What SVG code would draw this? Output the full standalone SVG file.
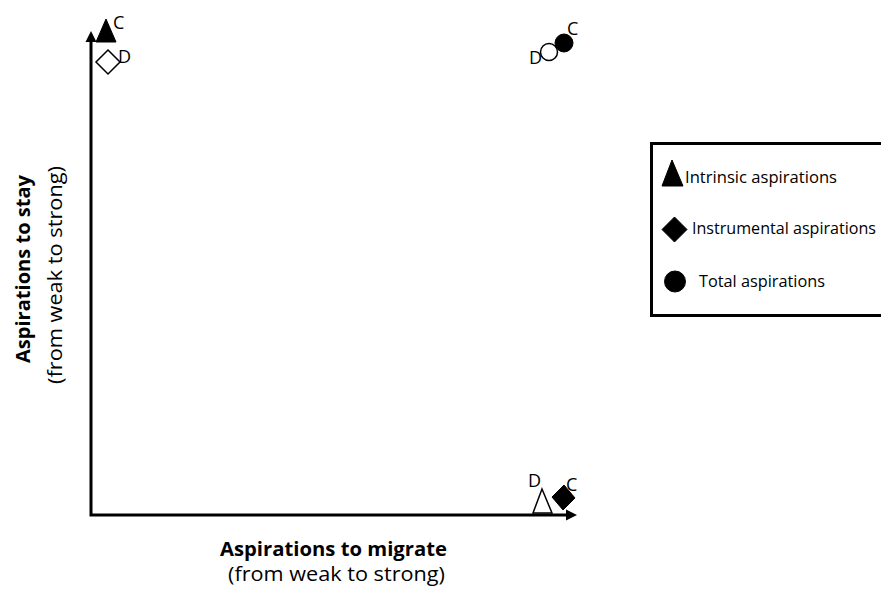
<svg xmlns="http://www.w3.org/2000/svg" width="881" height="590" viewBox="0 0 881 590">
  <style>
    .axis { stroke: #000; stroke-width: 3; fill: none; }
    .head { fill: #000; }
    .solid { fill: #000; stroke: #000; stroke-width: 1; }
    .hollow { fill: #fff; stroke: #000; stroke-width: 1.5; }
    .lbl { font-family: "Open Sans", "Noto Sans", sans-serif; font-size: 18px; fill: #000; }
    .title { font-family: "Open Sans", "Noto Sans", sans-serif; font-size: 20px; font-weight: bold; fill: #000; }
    .sub { font-family: "Open Sans", "Noto Sans", sans-serif; font-size: 20px; fill: #000; }
    .leg { font-family: "Open Sans", "Noto Sans", sans-serif; font-size: 17px; fill: #000; }
  </style>
  <rect width="881" height="590" fill="#fff"/>

  <!-- axes -->
  <g id="connectors">
    <path class="axis" d="M91,40 V515 H567"/>
    <polygon class="head" points="91,31 85.5,42 96.5,42"/>
    <polygon class="head" points="577,515 566,509.5 566,520.5"/>
  </g>

  <!-- axis titles -->
  <g id="x-axis-label">
    <text class="title" x="220" y="556" textLength="227" lengthAdjust="spacingAndGlyphs">Aspirations to migrate</text>
    <text class="sub" x="228" y="581" textLength="217" lengthAdjust="spacingAndGlyphs">(from weak to strong)</text>
  </g>
  <g id="y-axis-label">
    <text class="title" transform="translate(30,363) rotate(-90)" textLength="188" lengthAdjust="spacingAndGlyphs">Aspirations to stay</text>
    <text class="sub" transform="translate(62,384) rotate(-90)" textLength="218" lengthAdjust="spacingAndGlyphs">(from weak to strong)</text>
  </g>

  <!-- top-left: strong to stay -->
  <g id="point-top-left">
    <polygon class="solid" points="106,19 96,42 116,42"/>
    <text class="lbl" x="113" y="29">C</text>
    <polygon class="hollow" points="108,50 120,62 108,74 96,62"/>
    <text class="lbl" x="118" y="63">D</text>
  </g>

  <!-- top-right: strong on both -->
  <g id="point-top-right">
    <circle class="hollow" cx="549" cy="52" r="8.5"/>
    <circle class="solid" cx="564" cy="43" r="9"/>
    <text class="lbl" x="567" y="35">C</text>
    <text class="lbl" x="529" y="64">D</text>
  </g>

  <!-- bottom-right: strong to migrate -->
  <g id="point-bottom-right">
    <polygon class="hollow" points="542,489 552,513 533,513"/>
    <polygon class="solid" points="564,485 575,498 563,510 552,497"/>
    <text class="lbl" x="566" y="491">C</text>
    <text class="lbl" x="528" y="487">D</text>
  </g>

  <!-- legend: frame runs off the right edge, so only three sides are drawn -->
  <g id="legend">
    <path d="M881,143.5 H651.5 V315.5 H881" fill="#fff" stroke="#000" stroke-width="3"/>
    <polygon class="solid" points="672,160 662,186 683,186"/>
    <text class="leg" x="685" y="183" textLength="152" lengthAdjust="spacingAndGlyphs">Intrinsic aspirations</text>
    <polygon class="solid" points="674.5,217 687,229.5 674.5,242 662,229.5"/>
    <text class="leg" x="692" y="234" style="font-size:15.5px" textLength="184" lengthAdjust="spacingAndGlyphs">Instrumental aspirations</text>
    <circle class="solid" cx="675" cy="281.5" r="10.5"/>
    <text class="leg" x="699" y="287" textLength="126" lengthAdjust="spacingAndGlyphs">Total aspirations</text>
  </g>
</svg>
